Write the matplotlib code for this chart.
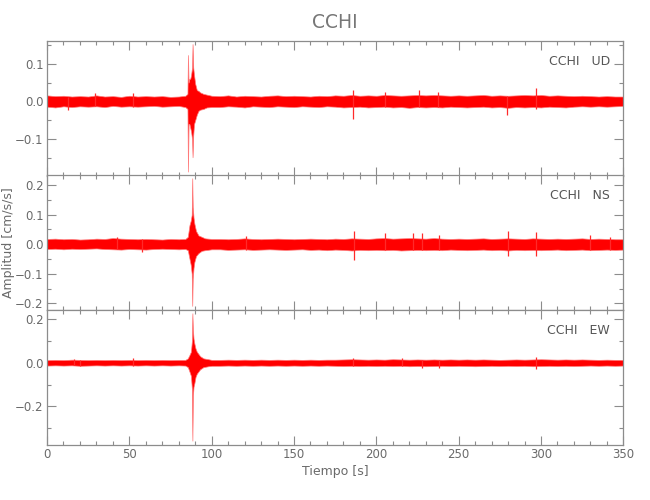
import numpy as np
import matplotlib
matplotlib.use("Agg")
import matplotlib.pyplot as plt
from matplotlib.ticker import MultipleLocator, FuncFormatter

plt.rcParams['font.family'] = ['DejaVu Sans']

# ---------------- data ----------------
title = "CCHI"
components = ["UD", "NS", "EW"]
xlabel = "Tiempo [s]"
ylabel = "Amplitud [cm/s/s]"

# background noise envelope, one value every 5 s (0 ... 350 s)
band_t = np.arange(0, 351, 5)

ud_hi = [0.016, 0.014, 0.015, 0.013, 0.014, 0.013, 0.016, 0.013, 0.014, 0.012,
         0.015, 0.013, 0.014, 0.013, 0.014, 0.012, 0.013, 0.014, 0.020, 0.018,
         0.015, 0.014, 0.016, 0.013, 0.015, 0.014, 0.013, 0.015, 0.016, 0.014,
         0.015, 0.014, 0.013, 0.015, 0.014, 0.016, 0.015, 0.017, 0.015, 0.016,
         0.015, 0.017, 0.016, 0.015, 0.016, 0.017, 0.016, 0.017, 0.016, 0.015,
         0.016, 0.015, 0.016, 0.017, 0.015, 0.016, 0.015, 0.016, 0.017, 0.016,
         0.017, 0.015, 0.016, 0.015, 0.014, 0.015, 0.014, 0.013, 0.014, 0.013,
         0.013]
ud_lo = [-0.014, -0.016, -0.013, -0.015, -0.013, -0.014, -0.013, -0.015, -0.012, -0.014,
         -0.013, -0.014, -0.013, -0.012, -0.014, -0.013, -0.012, -0.014, -0.020, -0.018,
         -0.014, -0.015, -0.013, -0.014, -0.016, -0.013, -0.014, -0.015, -0.013, -0.014,
         -0.015, -0.013, -0.014, -0.015, -0.013, -0.014, -0.016, -0.015, -0.014, -0.016,
         -0.015, -0.014, -0.016, -0.015, -0.017, -0.015, -0.016, -0.015, -0.016, -0.014,
         -0.015, -0.016, -0.015, -0.014, -0.016, -0.015, -0.017, -0.015, -0.016, -0.015,
         -0.016, -0.014, -0.015, -0.016, -0.014, -0.013, -0.014, -0.013, -0.014, -0.013,
         -0.012]

ns_hi = [0.018, 0.019, 0.017, 0.018, 0.016, 0.017, 0.019, 0.018, 0.021, 0.019,
         0.018, 0.017, 0.018, 0.017, 0.016, 0.018, 0.017, 0.020, 0.030, 0.022,
         0.019, 0.018, 0.017, 0.018, 0.020, 0.018, 0.017, 0.018, 0.019, 0.018,
         0.017, 0.018, 0.019, 0.018, 0.017, 0.019, 0.018, 0.020, 0.019, 0.018,
         0.020, 0.021, 0.019, 0.020, 0.021, 0.020, 0.019, 0.021, 0.019, 0.018,
         0.019, 0.018, 0.019, 0.020, 0.018, 0.019, 0.020, 0.019, 0.018, 0.020,
         0.019, 0.018, 0.019, 0.018, 0.019, 0.020, 0.018, 0.019, 0.018, 0.017,
         0.017]
ns_lo = [-0.016, -0.015, -0.017, -0.015, -0.016, -0.015, -0.014, -0.016, -0.017, -0.018,
         -0.016, -0.017, -0.018, -0.016, -0.015, -0.016, -0.017, -0.020, -0.030, -0.022,
         -0.018, -0.017, -0.019, -0.018, -0.017, -0.019, -0.018, -0.017, -0.018, -0.019,
         -0.018, -0.017, -0.019, -0.018, -0.020, -0.018, -0.019, -0.021, -0.019, -0.020,
         -0.019, -0.020, -0.019, -0.021, -0.020, -0.019, -0.020, -0.019, -0.020, -0.018,
         -0.019, -0.020, -0.019, -0.018, -0.020, -0.019, -0.021, -0.019, -0.020, -0.019,
         -0.020, -0.019, -0.018, -0.020, -0.019, -0.018, -0.020, -0.019, -0.018, -0.019,
         -0.018]

ew_hi = [0.012, 0.013, 0.012, 0.014, 0.013, 0.012, 0.013, 0.012, 0.013, 0.012,
         0.013, 0.012, 0.013, 0.012, 0.013, 0.012, 0.013, 0.014, 0.030, 0.020,
         0.014, 0.013, 0.014, 0.013, 0.014, 0.013, 0.014, 0.013, 0.014, 0.013,
         0.014, 0.013, 0.014, 0.013, 0.014, 0.014, 0.015, 0.016, 0.015, 0.014,
         0.015, 0.014, 0.016, 0.015, 0.014, 0.015, 0.014, 0.015, 0.014, 0.015,
         0.014, 0.015, 0.014, 0.015, 0.014, 0.013, 0.014, 0.015, 0.014, 0.015,
         0.016, 0.015, 0.014, 0.015, 0.014, 0.015, 0.014, 0.013, 0.014, 0.013,
         0.013]
ew_lo = [-0.013, -0.012, -0.013, -0.012, -0.014, -0.013, -0.012, -0.013, -0.012, -0.013,
         -0.012, -0.013, -0.012, -0.013, -0.012, -0.013, -0.012, -0.014, -0.030, -0.020,
         -0.013, -0.014, -0.013, -0.014, -0.013, -0.014, -0.013, -0.014, -0.013, -0.014,
         -0.013, -0.014, -0.013, -0.014, -0.013, -0.014, -0.015, -0.014, -0.015, -0.014,
         -0.015, -0.014, -0.015, -0.014, -0.016, -0.015, -0.016, -0.015, -0.014, -0.015,
         -0.014, -0.015, -0.016, -0.015, -0.014, -0.015, -0.014, -0.015, -0.014, -0.016,
         -0.015, -0.014, -0.015, -0.014, -0.015, -0.014, -0.013, -0.014, -0.013, -0.014,
         -0.013]

# envelope of the event (arrival around 86-90 s)
ud_ev_t  = [84.0, 85.3, 85.6, 86.0, 86.5, 87.0, 87.5, 88.1, 88.4, 88.8, 89.3, 90.0, 91.0, 92.0, 93.0, 95.0, 97.0, 100.0]
ud_ev_hi = [0.015, 0.020, 0.123, 0.050, 0.060, 0.060, 0.070, 0.090, 0.152, 0.090, 0.070, 0.047, 0.030, 0.028, 0.024, 0.020, 0.018, 0.015]
ud_ev_lo = [-0.015, -0.020, -0.186, -0.060, -0.060, -0.070, -0.080, -0.100, -0.148, -0.090, -0.060, -0.050, -0.035, -0.025, -0.022, -0.020, -0.016, -0.015]

ns_ev_t  = [84.0, 85.5, 86.5, 87.3, 87.9, 88.2, 88.5, 89.0, 89.5, 90.5, 92.0, 94.0, 96.0, 100.0]
ns_ev_hi = [0.018, 0.025, 0.064, 0.080, 0.100, 0.223, 0.126, 0.090, 0.070, 0.045, 0.030, 0.025, 0.020, 0.018]
ns_ev_lo = [-0.016, -0.020, -0.048, -0.070, -0.100, -0.208, -0.116, -0.080, -0.060, -0.040, -0.030, -0.022, -0.020, -0.017]

ew_ev_t  = [84.0, 85.5, 86.5, 87.4, 88.0, 88.3, 88.6, 89.0, 89.5, 90.2, 91.0, 93.0, 95.0, 98.0, 100.0]
ew_ev_hi = [0.013, 0.020, 0.035, 0.050, 0.100, 0.226, 0.150, 0.110, 0.088, 0.065, 0.050, 0.030, 0.020, 0.016, 0.013]
ew_ev_lo = [-0.013, -0.020, -0.040, -0.060, -0.120, -0.356, -0.150, -0.110, -0.094, -0.065, -0.050, -0.030, -0.020, -0.016, -0.014]

# isolated noise spikes
ud_sp_t  = [12.5, 29.0, 52.0, 186.0, 205.0, 226.0, 237.5, 279.5, 296.8]
ud_sp_hi = [0.012, 0.022, 0.023, 0.031, 0.024, 0.029, 0.026, 0.015, 0.036]
ud_sp_lo = [-0.024, -0.012, -0.015, -0.046, -0.015, -0.016, -0.015, -0.037, -0.020]

ns_sp_t  = [42.3, 57.5, 121.0, 186.4, 205.0, 222.0, 228.0, 238.0, 279.8, 296.8, 330.0, 342.0]
ns_sp_hi = [0.025, 0.018, 0.028, 0.044, 0.038, 0.038, 0.038, 0.033, 0.044, 0.043, 0.030, 0.025]
ns_sp_lo = [-0.016, -0.026, -0.018, -0.052, -0.020, -0.020, -0.020, -0.020, -0.040, -0.040, -0.020, -0.019]

ew_sp_t  = [16.4, 20.0, 52.4, 186.0, 215.6, 228.0, 238.0, 296.8]
ew_sp_hi = [0.018, 0.012, 0.020, 0.023, 0.020, 0.014, 0.014, 0.024]
ew_sp_lo = [-0.012, -0.017, -0.013, -0.015, -0.014, -0.026, -0.026, -0.030]

ylims = [(-0.197, 0.161), (-0.222, 0.234), (-0.376, 0.241)]
ymajor = [0.1, 0.1, 0.2]
yminor = [0.05, 0.05, 0.1]
xlim = (0, 350)

# ---------------- drawing ----------------
RED = '#ff0000'
AX = '#8c8c8c'
TXT = '#6a6a6a'

fig = plt.figure(figsize=(6.5, 5.0), dpi=100)

L, W = 47 / 650, (623.3 - 47) / 650
tops = [40.7, 175.0, 310.0]
H = 135.0 / 500

series = [
    (ud_hi, ud_lo, ud_ev_t, ud_ev_hi, ud_ev_lo, ud_sp_t, ud_sp_hi, ud_sp_lo),
    (ns_hi, ns_lo, ns_ev_t, ns_ev_hi, ns_ev_lo, ns_sp_t, ns_sp_hi, ns_sp_lo),
    (ew_hi, ew_lo, ew_ev_t, ew_ev_hi, ew_ev_lo, ew_sp_t, ew_sp_hi, ew_sp_lo),
]

fmt = FuncFormatter(lambda v, p: ("%.1f" % v).replace('-', '\u2212') if abs(v) > 1e-9 else "0.0")

for i, (hi, lo, et, eh, el, st, sh, sl) in enumerate(series):
    bottom = 1 - (tops[i] + 135.0) / 500
    ax = fig.add_axes([L, bottom, W, H])
    bt = np.asarray(band_t, float)
    keep = (bt < et[0]) | (bt > et[-1])
    t = np.concatenate([bt[keep], et])
    h = np.concatenate([np.asarray(hi)[keep], eh])
    l = np.concatenate([np.asarray(lo)[keep], el])
    o = np.argsort(t)
    ax.fill_between(t[o], l[o], h[o], facecolor=RED, edgecolor='#ff7a7a',
                    linewidth=0.5, zorder=2)
    ax.vlines(st, sl, sh, color='#ff2a2a', linewidth=0.9, zorder=2)

    ax.set_xlim(*xlim)
    ax.set_ylim(*ylims[i])
    ax.xaxis.set_major_locator(MultipleLocator(50))
    ax.xaxis.set_minor_locator(MultipleLocator(10))
    ax.yaxis.set_major_locator(MultipleLocator(ymajor[i]))
    ax.yaxis.set_minor_locator(MultipleLocator(yminor[i]))
    ax.yaxis.set_major_formatter(fmt)
    ax.tick_params(which='both', direction='in', top=True, right=True,
                   color=AX, labelcolor=TXT, labelsize=8.5, width=0.8)
    ax.tick_params(which='major', length=6.5, pad=2.5)
    ax.tick_params(which='minor', length=3.2)
    if i < 2:
        ax.tick_params(labelbottom=False)
    for s in ax.spines.values():
        s.set_color(AX)
        s.set_linewidth(0.9)
    ax.text(0.977, 0.848, "%s   %s" % (title, components[i]), transform=ax.transAxes,
            ha='right', va='center', fontsize=9, color='#555555')

fig.text(335 / 650, 1 - 22 / 500, title, ha='center', va='center', fontsize=13.5, color='#777777')
fig.text(335 / 650, 1 - 471 / 500, xlabel, ha='center', va='center', fontsize=9, color=TXT)
fig.text(9 / 650, 1 - 243 / 500, ylabel, ha='center', va='center', rotation=90,
         fontsize=9, color=TXT)

fig.savefig("out.png", dpi=100)
